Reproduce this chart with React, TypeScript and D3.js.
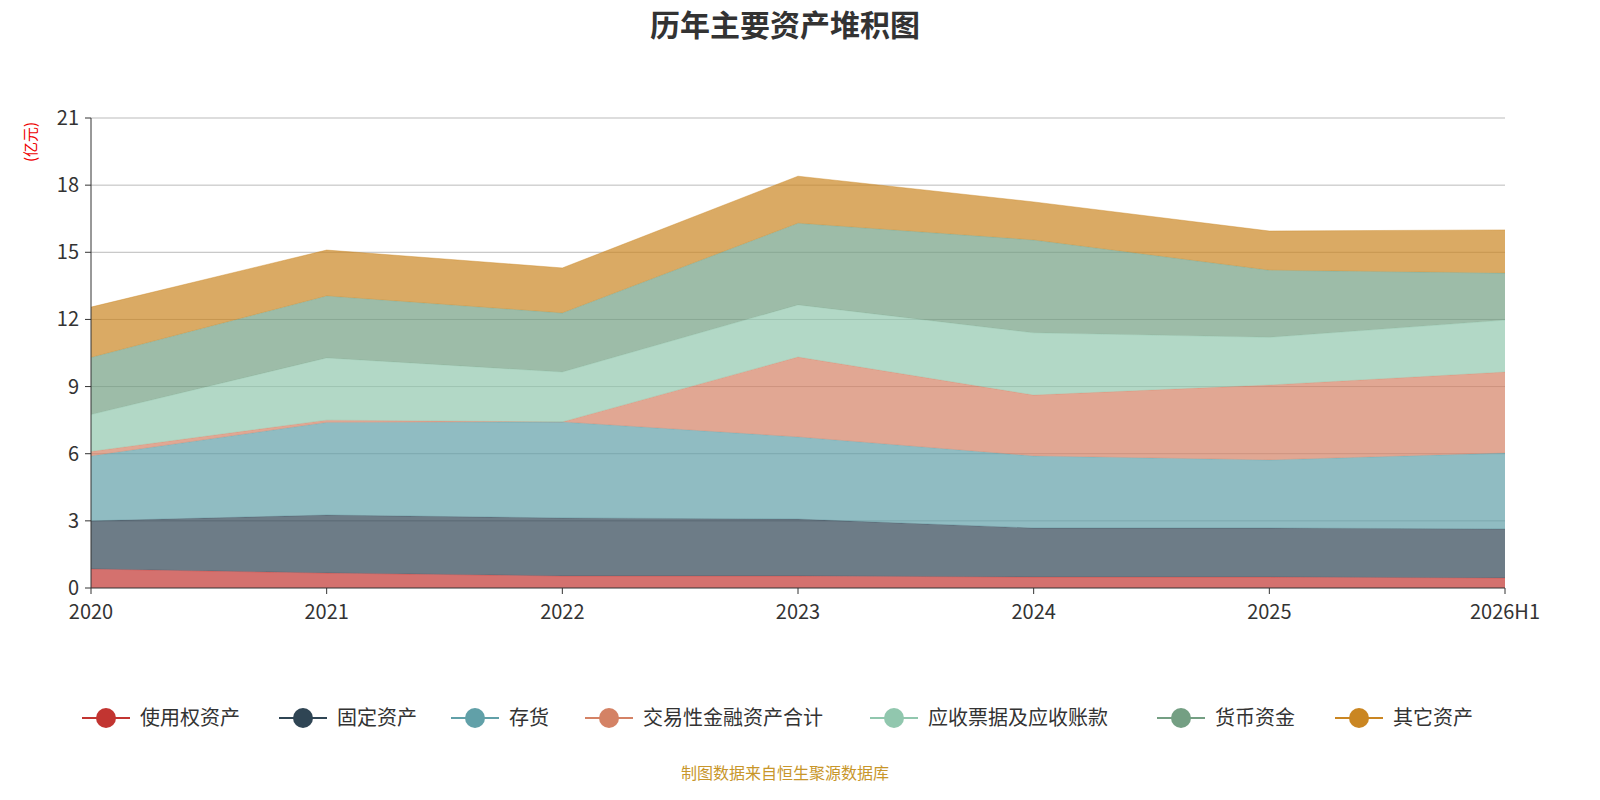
import React from 'react';
import * as d3 from 'd3';

const years = ['2020', '2021', '2022', '2023', '2024', '2025', '2026H1'];
const seriesNames = ['使用权资产', '固定资产', '存货', '交易性金融资产合计', '应收票据及应收账款', '货币资金', '其它资产'];
const colors = ['#c23531', '#2f4554', '#61a0a8', '#d48265', '#91c7ae', '#749f83', '#ca8622'];
const rou = [0.85, 0.67, 0.54, 0.54, 0.49, 0.49, 0.45];
const fixed = [2.15, 2.59, 2.59, 2.54, 2.19, 2.19, 2.19];
const inventory = [2.9, 4.14, 4.29, 3.67, 3.22, 3.04, 3.39];
const tradingFin = [0.2, 0.1, 0.0, 3.57, 2.72, 3.35, 3.62];
const receivable = [1.65, 2.78, 2.23, 2.33, 2.78, 2.13, 2.32];
const cash = [2.55, 2.77, 2.64, 3.65, 4.15, 3.0, 2.1];
const other = [2.25, 2.05, 2.01, 2.1, 1.7, 1.75, 1.93];
const allSeries = [rou, fixed, inventory, tradingFin, receivable, cash, other];
const yTicks = [0, 3, 6, 9, 12, 15, 18, 21];
const legendX = [106, 303, 475, 609, 894, 1181, 1359];

const W = 1600, H = 800;
const left = 91, right = 1505, top = 118, bottom = 588;

export default function App() {
  const x = d3.scalePoint<string>().domain(years).range([left, right]);
  const y = d3.scaleLinear().domain([0, 21]).range([bottom, top]);
  const rows = years.map((yr, i) => {
    const r: any = { year: yr };
    seriesNames.forEach((n, k) => (r[n] = allSeries[k][i]));
    return r;
  });
  const stacked = d3.stack<any>().keys(seriesNames)(rows);
  const area = d3.area<any>().x(d => x(d.data.year)!).y0(d => y(d[0])).y1(d => y(d[1]));
  const line = d3.line<any>().x(d => x(d.data.year)!).y(d => y(d[1]));
  const font = '"Microsoft YaHei", "Noto Sans CJK SC", sans-serif';
  return (
    <svg width={W} height={H} style={{ display: 'block', position: 'absolute', left: 0, top: 0, fontFamily: font }}>
      <text x={785} y={36} textAnchor="middle" fontSize={30} fontWeight="bold" fill="#333">历年主要资产堆积图</text>
      <text transform={`translate(36,142) rotate(-90)`} textAnchor="middle" fontSize={15} fill="#e00">(亿元)</text>
      {yTicks.map(t => (
        <g key={t}>
          {t > 0 && <line x1={left} x2={right} y1={y(t)} y2={y(t)} stroke="#bbb" />}
          <line x1={left - 6} x2={left} y1={y(t)} y2={y(t)} stroke="#333" />
          <text x={left - 12} y={y(t) + 7} textAnchor="end" fontSize={20} fill="#333">{t}</text>
        </g>
      ))}
      {stacked.map((s, k) => (
        <g key={k}>
          <path d={area(s)!} fill={colors[k]} fillOpacity={0.7} />
          <path d={line(s)!} fill="none" stroke={colors[k]} strokeOpacity={0.4} strokeWidth={1} />
        </g>
      ))}
      <line x1={left} x2={left} y1={top} y2={bottom} stroke="#333" />
      <line x1={left} x2={right} y1={bottom} y2={bottom} stroke="#333" />
      {years.map(yr => (
        <g key={yr}>
          <line x1={x(yr)} x2={x(yr)} y1={bottom} y2={bottom + 6} stroke="#333" />
          <text x={x(yr)} y={bottom + 31} textAnchor="middle" fontSize={20} fill="#333">{yr}</text>
        </g>
      ))}
      {seriesNames.map((n, k) => (
        <g key={n}>
          <line x1={legendX[k] - 24} x2={legendX[k] + 24} y1={718} y2={718} stroke={colors[k]} strokeWidth={2} />
          <circle cx={legendX[k]} cy={718} r={10} fill={colors[k]} />
          <text x={legendX[k] + 34} y={725} fontSize={20} fill="#333">{n}</text>
        </g>
      ))}
      <text x={785} y={779} textAnchor="middle" fontSize={16} fill="#c8962a">制图数据来自恒生聚源数据库</text>
    </svg>
  );
}
